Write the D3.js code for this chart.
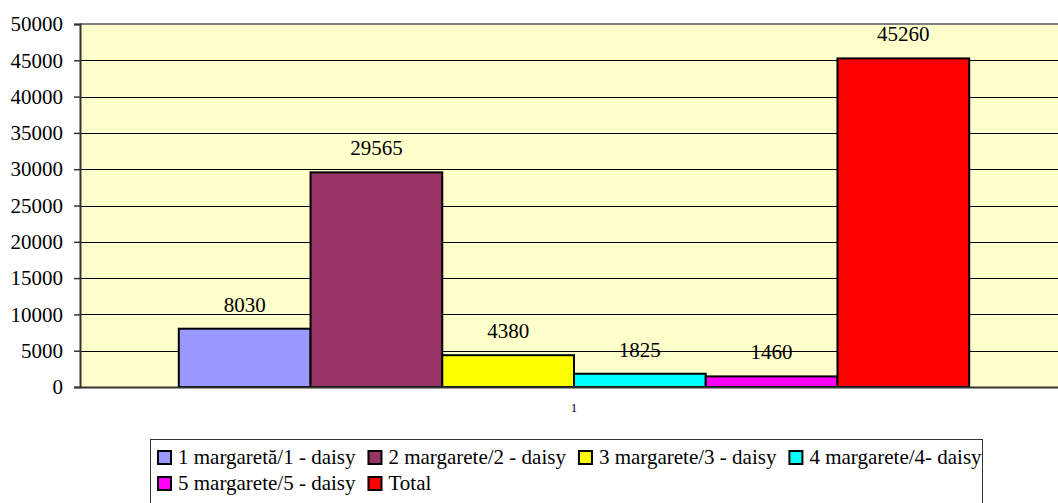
<!DOCTYPE html>
<html>
<head>
<meta charset="utf-8">
<script src="https://cdn.jsdelivr.net/npm/d3@7"></script>
<style>
  body { margin: 0; background: #fff; }
  svg text { font-family: "Liberation Serif", "Times New Roman", Tinos, "DejaVu Serif", serif; fill: #000; }
</style>
</head>
<body>
<div id="chart-area"></div>
<script>
// DATA
var categories = ["1"];
var seriesNames = ["1 margaretă/1 - daisy", "2 margarete/2 - daisy", "3 margarete/3 - daisy",
                   "4 margarete/4- daisy", "5 margarete/5 - daisy", "Total"];
var seriesValues = [8030, 29565, 4380, 1825, 1460, 45260];
var seriesColors = ["#9999FF", "#993366", "#FFFF00", "#00FFFF", "#FF00FF", "#FF0000"];
var yTicks = [0, 5000, 10000, 15000, 20000, 25000, 30000, 35000, 40000, 45000, 50000];

var width = 1058;
var height = 503;
var plot = { left: 80, right: 1068, top: 24, bottom: 387 };
var serif = "'Liberation Serif', 'Times New Roman', Tinos, 'DejaVu Serif', serif";

var svg = d3.select("#chart-area")
    .append("svg")
    .attr("width", width)
    .attr("height", height);

// SCALES
var y = d3.scaleLinear()
    .domain([0, 50000])
    .range([plot.bottom, plot.top]);

var x0 = d3.scaleBand()
    .domain(categories)
    .range([plot.left, plot.right])
    .paddingInner(0)
    .paddingOuter(0.125);

var x1 = d3.scaleBand()
    .domain(seriesNames)
    .range([0, x0.bandwidth()]);

var color = d3.scaleOrdinal()
    .domain(seriesNames)
    .range(seriesColors);

// plot background
svg.append("rect")
    .attr("x", plot.left)
    .attr("y", plot.top)
    .attr("width", plot.right - plot.left)
    .attr("height", plot.bottom - plot.top)
    .attr("fill", "#FFFFCC");

// gridlines
svg.append("g")
    .selectAll("line")
    .data(yTicks.filter((d) => d > 0 && d < 50000))
    .enter()
    .append("line")
    .attr("x1", plot.left)
    .attr("x2", plot.right)
    .attr("y1", (d) => Math.round(y(d)) + 0.5)
    .attr("y2", (d) => Math.round(y(d)) + 0.5)
    .attr("stroke", "#000")
    .attr("stroke-width", 1);

// top border of plot area
svg.append("line")
    .attr("x1", plot.left)
    .attr("x2", plot.right)
    .attr("y1", plot.top)
    .attr("y2", plot.top)
    .attr("stroke", "#808080")
    .attr("stroke-width", 2);

// BARS
var groups = svg.append("g")
    .selectAll("g")
    .data(categories)
    .enter()
    .append("g")
    .attr("transform", (d) => "translate(" + x0(d) + ",0)");

var bars = groups.selectAll("rect")
    .data(seriesNames.map((name, i) => ({ name: name, value: seriesValues[i] })))
    .enter();

bars.append("rect")
    .attr("x", (d) => x1(d.name))
    .attr("y", (d) => y(d.value))
    .attr("width", x1.bandwidth())
    .attr("height", (d) => y(0) - y(d.value))
    .attr("fill", (d) => color(d.name))
    .attr("stroke", "#000")
    .attr("stroke-width", 2);

bars.append("text")
    .attr("x", (d) => x1(d.name) + x1.bandwidth() / 2)
    .attr("y", (d) => y(d.value) - 17)
    .attr("text-anchor", "middle")
    .attr("font-size", "21px")
    .text((d) => d.value);

// AXES
var leftAxis = d3.axisLeft(y)
    .tickValues(yTicks)
    .tickSize(6)
    .tickPadding(11)
    .tickFormat((d) => d);

var yAxisG = svg.append("g")
    .attr("transform", "translate(" + plot.left + ",0)")
    .attr("font-family", serif)
    .call(leftAxis);
yAxisG.select(".domain").attr("stroke", "#333").attr("stroke-width", 2);
yAxisG.selectAll(".tick line").attr("stroke", "#333").attr("stroke-width", 1.5);
yAxisG.selectAll(".tick text")
    .attr("font-size", "21px")
    .attr("fill", "#000");

var bottomAxis = d3.axisBottom(x0)
    .tickSize(0)
    .tickPadding(16);

var xAxisG = svg.append("g")
    .attr("transform", "translate(0," + plot.bottom + ")")
    .attr("font-family", serif)
    .call(bottomAxis);
xAxisG.select(".domain").attr("stroke", "#333").attr("stroke-width", 2);
xAxisG.selectAll(".tick text")
    .attr("font-size", "13px")
    .attr("fill", "#000");

// LEGEND
var legend = svg.append("g");
legend.append("rect")
    .attr("x", 150.5)
    .attr("y", 439.5)
    .attr("width", 832)
    .attr("height", 80)
    .attr("fill", "#fff")
    .attr("stroke", "#333")
    .attr("stroke-width", 1);

var perRow = 4;
var measure = svg.append("text").attr("font-size", "21px");
var widths = seriesNames.map((name) => {
    measure.text(name);
    return measure.node().getComputedTextLength();
});
measure.remove();

var colX = [157];
for (var c = 1; c < perRow; c++) {
    var maxW = 0;
    for (var k = c - 1; k < seriesNames.length; k += perRow) maxW = Math.max(maxW, widths[k]);
    colX.push(colX[c - 1] + 21 + maxW + 12);
}

var items = legend.selectAll("g.item")
    .data(seriesNames)
    .enter()
    .append("g")
    .attr("class", "item")
    .attr("transform", (d, i) => "translate(" + colX[i % perRow] + "," + (450 + Math.floor(i / perRow) * 26) + ")");

items.append("rect")
    .attr("x", 1)
    .attr("y", 1)
    .attr("width", 13)
    .attr("height", 13)
    .attr("fill", (d) => color(d))
    .attr("stroke", "#000")
    .attr("stroke-width", 2);

items.append("text")
    .attr("x", 21)
    .attr("y", 14)
    .attr("font-size", "21px")
    .text((d) => d);
</script>
</body>
</html>
